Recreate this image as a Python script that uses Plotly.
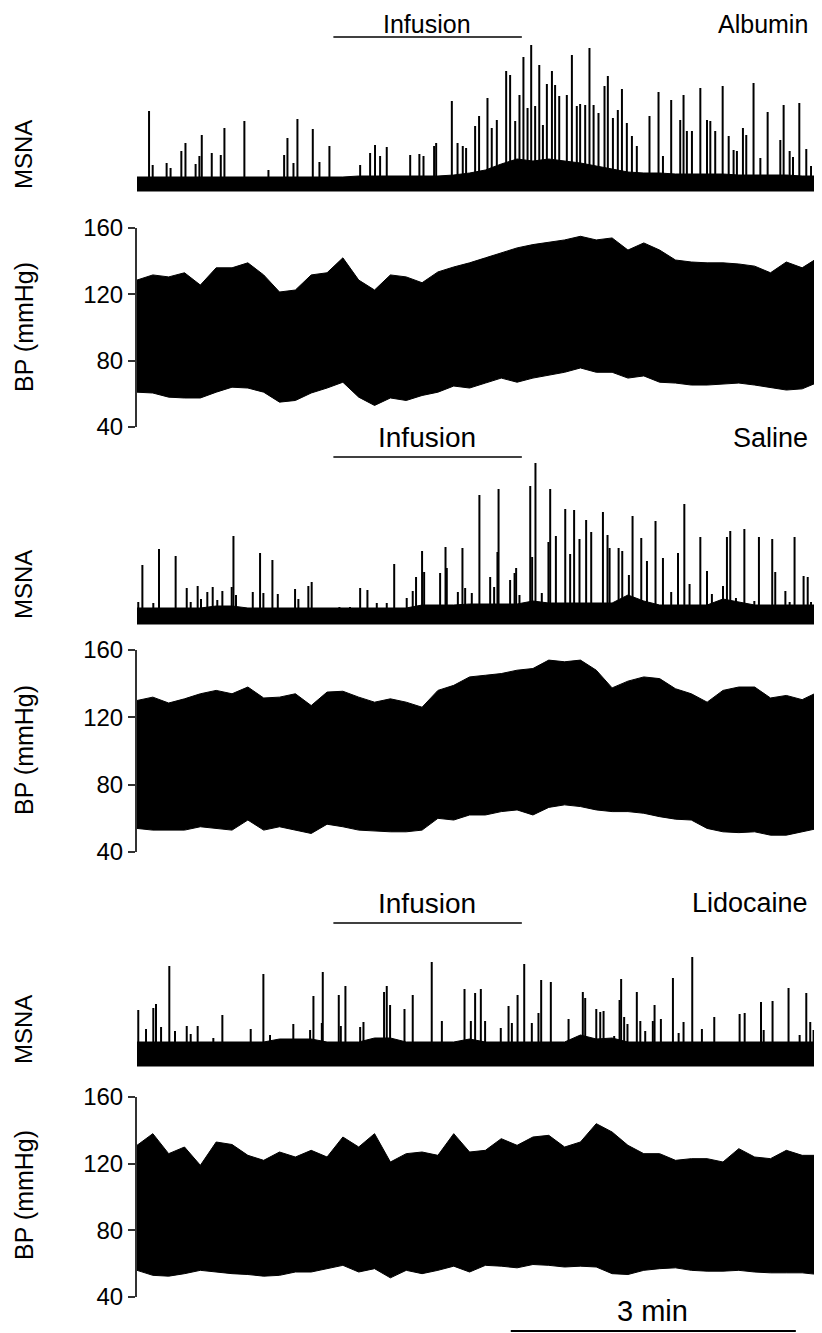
import plotly.graph_objects as go

# the page adds an 8 px body margin, so the figure is 8 px smaller and positions are shifted
OFF = 8
W, H = 822 - OFF, 1333 - OFF

# time grid (s) at which the blood pressure envelopes were read
t_grid = [0, 10, 20, 30, 40, 50, 60, 70, 80, 90, 100, 110, 120, 130, 140, 150, 160, 170, 180, 190, 200,
          210, 220, 230, 240, 250, 260, 270, 280, 290, 300, 310, 320, 330, 340, 350, 360, 370, 380, 390,
          400, 410, 420, 430]

infusion = [124, 243]      # s
scale_bar = [236, 416]     # 3 min

#%% Albumin
bp1_sys = [128.6, 131.7, 130.5, 133, 125.6, 136, 136, 139, 131.7, 121.4, 122.6, 131.7, 133, 142, 128.6,
           122.6, 131.7, 130.5, 127, 133.5, 136.5, 139, 142, 145, 148, 150, 151.6, 152.8, 155, 152.8,
           154, 146.7, 151, 146.7, 140.7, 139.5, 139, 139, 138.3, 137, 133, 139.5, 136, 142]
bp1_dia = [61, 60.5, 58, 57.5, 57.5, 61, 64, 63.5, 61, 55, 56, 60.5, 63.5, 67, 58, 53, 57.5, 56, 59, 61,
           64.7, 63.5, 66.5, 69.5, 67, 69.5, 71.4, 73, 75.6, 73, 73, 69.5, 70.8, 67, 66.5, 65.3, 65.3,
           66, 66.5, 65.3, 64, 62.3, 63, 67]
msna1_noise = [6, 6, 6, 6, 6, 6, 6, 6, 6, 6, 6, 6, 6, 6, 7, 7, 7, 7, 7, 7, 8, 10, 13, 19, 24, 22, 24,
               22, 20, 17, 14, 11, 10, 10, 9, 9, 9, 9, 8, 8, 8, 8, 7, 7]
msna1_bursts = [
    (7.6, 72), (9.9, 18), (18.7, 20), (21.2, 15), (28, 32), (30.6, 40), (37, 19), (39.4, 27), (40.9, 48),
    (47.2, 30), (52.9, 28), (55.2, 55), (67.8, 62), (83, 13), (92.9, 28), (95, 45), (98.8, 20),
    (101.3, 64), (111, 54), (115.2, 21), (121.5, 37), (140.9, 18), (147.2, 30), (150.3, 38),
    (153.5, 27), (157.7, 36), (172.5, 28), (178.3, 29), (180.9, 27), (187.6, 37), (188.9, 40),
    (198.8, 82), (202.4, 40), (205.7, 37), (207.8, 35), (213.5, 57), (216, 67), (221.3, 85), (224, 55),
    (227.2, 63), (233.1, 112), (235.6, 108), (238.8, 62), (241.5, 88), (244, 126), (246.6, 75),
    (248.9, 138), (251.4, 77), (254, 118), (256.3, 58), (258.8, 99), (262, 112), (264, 98),
    (266.6, 87), (271.4, 88), (274.6, 128), (277.7, 77), (279.8, 79), (283, 78), (285.7, 135),
    (288.3, 78), (291.4, 70), (295.2, 97), (297.3, 107), (300.5, 65), (303.6, 73), (306.2, 94),
    (309.3, 60), (312.5, 47), (315.6, 37), (323.6, 67), (329.3, 91), (332.1, 27), (337.3, 83),
    (343, 63), (345.1, 88), (347.2, 52), (350.4, 52), (355.7, 95), (359.9, 63), (362, 62),
    (365.1, 52), (369.8, 97), (373.6, 47), (376.7, 33), (378.8, 32), (382.6, 55), (384.7, 48),
    (389.3, 100), (393.6, 25), (398.2, 71), (406.2, 43), (408.3, 78), (412.1, 32), (414.2, 26),
    (418.2, 80), (422.6, 34), (425.6, 17)]

#%% Saline
bp2_sys = [130, 132, 128.5, 131, 134, 136, 134, 138, 131.5, 132, 134, 127, 135, 135.5, 132, 129, 131,
           129, 126, 136, 139, 144, 145, 146, 148, 149, 154, 153, 154, 148, 137.5, 141.5, 144, 143, 137,
           134, 129, 136, 138, 138, 131.5, 133, 130.5, 135]
bp2_dia = [54, 53, 53, 53, 55, 54, 53, 59, 53, 55, 53, 51, 56.5, 55, 53, 52.5, 52, 52, 53, 60, 59, 62,
           62, 64, 65, 62, 66.5, 68, 67, 65, 64, 64, 63, 61, 59.5, 59, 54, 52, 51.5, 52, 50, 50, 52, 54]
msna2_noise = [7, 7, 7, 7, 7, 9, 9, 7, 7, 7, 7, 7, 7, 7, 7, 7, 7, 7, 10, 10, 10, 11, 11, 11, 11, 14,
               12, 12, 12, 12, 12, 20, 14, 10, 10, 10, 10, 16, 13, 10, 10, 10, 10, 10]
msna2_bursts = [
    (0.8, 13), (3.4, 50), (10.3, 12), (13.9, 66), (24.4, 59), (31.4, 27), (33.9, 13), (38.3, 29),
    (40.4, 16), (44.4, 23), (47.8, 28), (50.7, 15), (53.9, 24), (59.8, 28), (60.9, 79), (62.5, 20),
    (73.1, 23), (77.7, 62), (79.8, 22), (85.5, 55), (88.9, 21), (99.8, 26), (101.9, 16), (108.2, 29),
    (110.3, 33), (127.8, 8), (134.5, 8), (140.9, 27), (145.5, 25), (151.4, 12), (157.7, 12),
    (162.4, 51), (170.3, 17), (174.1, 24), (176.2, 38), (180, 64), (181.3, 43), (191.4, 42),
    (194.8, 68), (195.6, 47), (202.6, 23), (205.5, 67), (207.2, 27), (211.4, 22), (216.2, 120),
    (223, 38), (225.5, 28), (227.6, 63), (228.3, 126), (235.6, 35), (238.4, 42), (239.4, 47),
    (241.5, 20), (248.3, 129), (249.5, 58), (251.6, 152), (255.6, 22), (259.8, 73), (260.9, 126),
    (264.5, 79), (270.4, 106), (273.5, 61), (276, 105), (279.4, 76), (283.6, 95), (286.8, 83),
    (294.2, 103), (297.1, 80), (298.4, 67), (304.1, 67), (306.4, 64), (310.6, 40), (312.9, 99),
    (318.4, 77), (322, 54), (327.4, 94), (332.1, 57), (337.3, 23), (341.6, 62), (345.6, 111),
    (348.9, 31), (355.7, 78), (359.9, 44), (363, 21), (370, 29), (372.5, 78), (374.6, 84),
    (378.2, 17), (383.5, 86), (389.8, 14), (392.7, 78), (397.8, 10), (401.1, 76), (403, 43),
    (409.4, 24), (412.1, 13), (415.2, 78), (420.9, 39), (423.5, 38), (425.6, 13)]

#%% Lidocaine
bp3_sys = [131, 138, 126, 130, 119, 133, 131.5, 125, 122, 127, 124, 128, 124, 136, 130, 138, 121, 126,
           127, 125, 138, 127, 128, 135, 131, 136, 137, 130, 133, 144, 139, 131, 126, 126, 122, 123, 123,
           121, 129, 124, 123, 128, 125, 125]
bp3_dia = [56, 53, 52.5, 54, 56, 55, 54, 53.5, 52.5, 53, 55, 55, 57, 59, 55, 57, 51.5, 56, 54, 56,
           58.5, 55, 59, 58.5, 57.5, 59.5, 59, 58, 58.5, 58, 54, 53.5, 56, 57, 57.5, 56, 55.5, 55.5, 56,
           55, 54.5, 54.5, 54.5, 53.5]
msna3_noise = [11, 11, 11, 11, 11, 11, 11, 11, 11, 14, 14, 14, 11, 11, 11, 15, 15, 11, 11, 11, 11, 14,
               11, 11, 11, 11, 11, 11, 18, 14, 15, 11, 11, 11, 11, 11, 11, 11, 11, 11, 11, 11, 11, 11]
msna3_bursts = [
    (0.8, 43), (5.7, 24), (10.3, 45), (12, 49), (15.2, 26), (20.4, 87), (24, 22), (31.4, 27),
    (33.9, 19), (38.3, 27), (48.2, 15), (53.9, 38), (71.8, 24), (79.8, 79), (84, 18), (98.7, 29),
    (109.3, 23), (111.4, 57), (116.7, 30), (117.3, 81), (127.4, 58), (128.7, 27), (131.6, 67),
    (140.9, 26), (143, 31), (156, 61), (157.7, 67), (159.8, 48), (168.9, 44), (174.1, 58),
    (186.1, 91), (192.5, 32), (206.8, 64), (210.8, 32), (213.5, 60), (217.1, 64), (219.8, 32),
    (229.7, 25), (234.6, 47), (236.7, 30), (240.3, 58), (244.5, 89), (249.3, 30), (253.5, 40),
    (255.2, 73), (261.3, 71), (272.5, 34), (281.5, 61), (283, 55), (290, 44), (292.5, 41),
    (294.6, 42), (301.3, 17), (304.7, 53), (305.7, 74), (307.6, 36), (309.7, 29), (315.6, 61),
    (317.8, 32), (320.9, 22), (325.7, 32), (326.8, 48), (330.8, 34), (338.4, 75), (342, 20),
    (345.1, 31), (350.6, 96), (356.7, 24), (364.5, 36), (380.5, 39), (383.7, 40), (394, 51),
    (395.7, 23), (401.3, 52), (411.4, 65), (418.4, 18), (422.6, 60), (425.1, 31), (427.2, 23)]

panels = [
    dict(name='Albumin', sys=bp1_sys, dia=bp1_dia, noise=msna1_noise, noise_lo=-8, bursts=msna1_bursts,
         msna_px=(40, 195), msna_rng=[-12, 143], bp_px=(228, 427), head=None, bar=37, msna_lab=155, bp_lab=327),
    dict(name='Saline', sys=bp2_sys, dia=bp2_dia, noise=msna2_noise, noise_lo=-9, bursts=msna2_bursts,
         msna_px=(455, 630), msna_rng=[-15, 160], bp_px=(650, 852), head=438, bar=457, msna_lab=585, bp_lab=750),
    dict(name='Lidocaine', sys=bp3_sys, dia=bp3_dia, noise=msna3_noise, noise_lo=-13, bursts=msna3_bursts,
         msna_px=(950, 1075), msna_rng=[-22, 103], bp_px=(1097, 1297), head=903, bar=923, msna_lab=1030, bp_lab=1195),
]

FONT = 'Arial, Liberation Sans, sans-serif'


# page pixel -> paper fraction
def py(y):
    return 1 - (y - OFF) / H


def px(x):
    return (x - OFF) / W


fig = go.Figure()
layout = dict(
    template='none',
    width=W, height=H, margin=dict(l=0, r=0, t=0, b=0, pad=0, autoexpand=False),
    paper_bgcolor='white', plot_bgcolor='white', showlegend=False,
    font=dict(family=FONT, color='black'),
    xaxis=dict(domain=[px(137), px(818)], range=[0, 430], visible=False, automargin=False),
)
annotations = []
shapes = []

for i, p in enumerate(panels):
    ym = 2 * i + 1
    yb = 2 * i + 2
    ya_m = 'y' if ym == 1 else 'y%d' % ym
    ya_b = 'y%d' % yb

    # MSNA noise band
    fig.add_trace(go.Scatter(
        x=t_grid + t_grid[::-1], y=p['noise'] + [p['noise_lo']] * len(t_grid),
        fill='toself', fillcolor='black', line=dict(color='black', width=1),
        mode='lines', xaxis='x', yaxis=ya_m, hoverinfo='skip'))
    # MSNA bursts
    bx, by = [], []
    for t, h in p['bursts']:
        bx += [t, t, None]
        by += [0, h, None]
    fig.add_trace(go.Scatter(x=bx, y=by, mode='lines', line=dict(color='black', width=2),
                             xaxis='x', yaxis=ya_m, hoverinfo='skip'))
    # BP envelope
    fig.add_trace(go.Scatter(
        x=t_grid + t_grid[::-1], y=p['sys'] + p['dia'][::-1],
        fill='toself', fillcolor='black', line=dict(color='black', width=1),
        mode='lines', xaxis='x', yaxis=ya_b, hoverinfo='skip'))

    m0, m1 = p['msna_px']
    b0, b1 = p['bp_px']
    layout['yaxis' if ym == 1 else 'yaxis%d' % ym] = dict(
        domain=[py(m1), py(m0)], range=p['msna_rng'], visible=False, anchor='x', automargin=False)
    layout['yaxis%d' % yb] = dict(
        domain=[py(b1), py(b0)], range=[40, 160], anchor='x', automargin=False,
        tickvals=[40, 80, 120, 160], ticks='outside', ticklen=7, tickwidth=2,
        tickcolor='#333', showline=True, linewidth=2, linecolor='#333',
        showgrid=False, zeroline=False, tickfont=dict(size=24, family=FONT, color='black'))

    # first header sits against the top edge of the page, so it is a bit smaller
    if p['head'] is None:
        hy, hanchor, fs1, fs2 = 1, 'top', 25, 25
    else:
        hy, hanchor, fs1, fs2 = py(p['head']), 'middle', 28, 27
    annotations += [
        dict(text='Infusion', x=px(427), y=hy, xref='paper', yref='paper',
             showarrow=False, font=dict(size=fs1), xanchor='center', yanchor=hanchor),
        dict(text=p['name'], x=px(810), y=hy, xref='paper', yref='paper',
             showarrow=False, font=dict(size=fs2), xanchor='right', yanchor=hanchor),
        dict(text='MSNA', x=px(23), y=py(p['msna_lab']), xref='paper', yref='paper', textangle=-90,
             showarrow=False, font=dict(size=24), xanchor='center', yanchor='middle'),
        dict(text='BP (mmHg)', x=px(24), y=py(p['bp_lab']), xref='paper', yref='paper', textangle=-90,
             showarrow=False, font=dict(size=25), xanchor='center', yanchor='middle'),
    ]
    shapes.append(dict(type='line', xref='x', yref='paper', x0=infusion[0], x1=infusion[1],
                       y0=py(p['bar']), y1=py(p['bar']), line=dict(color='black', width=1.5)))

annotations.append(dict(text='3 min', x=px(652), y=py(1311), xref='paper', yref='paper',
                        showarrow=False, font=dict(size=29), xanchor='center', yanchor='middle'))
shapes.append(dict(type='line', xref='x', yref='paper', x0=scale_bar[0], x1=scale_bar[1],
                   y0=py(1331), y1=py(1331), line=dict(color='black', width=2)))

layout['annotations'] = annotations
layout['shapes'] = shapes
fig.update_layout(**layout)
fig.write_html("out.html")
